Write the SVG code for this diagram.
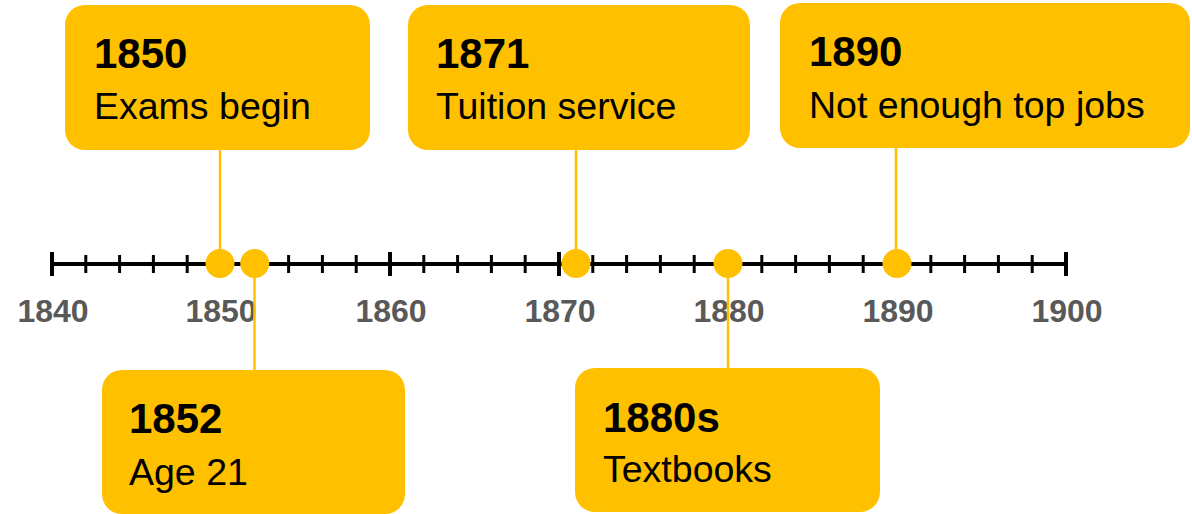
<svg xmlns="http://www.w3.org/2000/svg" width="1192" height="514" viewBox="0 0 1192 514">
<style>
.box{fill:#FFC000}
.yr{font-family:"Liberation Sans",Arial,sans-serif;font-weight:bold;font-size:42px;fill:#000}
.desc{font-family:"Liberation Sans",Arial,sans-serif;font-size:37.5px;fill:#000}
.ax{font-family:"Liberation Sans",Arial,sans-serif;font-weight:bold;font-size:32px;fill:#595959;text-anchor:middle}
.conn{stroke:#FFC000;stroke-width:2.5;fill:none}
.dot{fill:#FFC000}
.maj{stroke:#000;stroke-width:4}
.min{stroke:#000;stroke-width:3}
</style>
<g id="axis">
<line x1="52" y1="264" x2="1066" y2="264" stroke="#000" stroke-width="4"/>
<g class="maj">
<line x1="52" y1="252" x2="52" y2="276"/>
<line x1="221" y1="252" x2="221" y2="276"/>
<line x1="390" y1="252" x2="390" y2="276"/>
<line x1="559" y1="252" x2="559" y2="276"/>
<line x1="728" y1="252" x2="728" y2="276"/>
<line x1="897" y1="252" x2="897" y2="276"/>
<line x1="1066" y1="252" x2="1066" y2="276"/>
</g>
<g class="min">
<line x1="85.8" y1="255" x2="85.8" y2="273"/>
<line x1="119.6" y1="255" x2="119.6" y2="273"/>
<line x1="153.4" y1="255" x2="153.4" y2="273"/>
<line x1="187.2" y1="255" x2="187.2" y2="273"/>
<line x1="254.8" y1="255" x2="254.8" y2="273"/>
<line x1="288.6" y1="255" x2="288.6" y2="273"/>
<line x1="322.4" y1="255" x2="322.4" y2="273"/>
<line x1="356.2" y1="255" x2="356.2" y2="273"/>
<line x1="423.8" y1="255" x2="423.8" y2="273"/>
<line x1="457.6" y1="255" x2="457.6" y2="273"/>
<line x1="491.4" y1="255" x2="491.4" y2="273"/>
<line x1="525.2" y1="255" x2="525.2" y2="273"/>
<line x1="592.8" y1="255" x2="592.8" y2="273"/>
<line x1="626.6" y1="255" x2="626.6" y2="273"/>
<line x1="660.4" y1="255" x2="660.4" y2="273"/>
<line x1="694.2" y1="255" x2="694.2" y2="273"/>
<line x1="761.8" y1="255" x2="761.8" y2="273"/>
<line x1="795.6" y1="255" x2="795.6" y2="273"/>
<line x1="829.4" y1="255" x2="829.4" y2="273"/>
<line x1="863.2" y1="255" x2="863.2" y2="273"/>
<line x1="930.8" y1="255" x2="930.8" y2="273"/>
<line x1="964.6" y1="255" x2="964.6" y2="273"/>
<line x1="998.4" y1="255" x2="998.4" y2="273"/>
<line x1="1032.2" y1="255" x2="1032.2" y2="273"/>
</g>
<text class="ax" x="53" y="322">1840</text>
<text class="ax" x="221" y="322">1850</text>
<text class="ax" x="391" y="322">1860</text>
<text class="ax" x="560" y="322">1870</text>
<text class="ax" x="729" y="322">1880</text>
<text class="ax" x="898" y="322">1890</text>
<text class="ax" x="1067" y="322">1900</text>
</g>
<g id="connectors">
<line class="conn" x1="220" y1="150" x2="220" y2="263"/>
<line class="conn" x1="254.5" y1="263" x2="254.5" y2="371"/>
<line class="conn" x1="576" y1="150" x2="576" y2="263"/>
<line class="conn" x1="728" y1="263" x2="728" y2="369"/>
<line class="conn" x1="896" y1="148" x2="896" y2="263"/>
</g>
<g id="dots">
<circle class="dot" cx="220" cy="263.5" r="14.5"/>
<circle class="dot" cx="254.7" cy="263.5" r="14.5"/>
<circle class="dot" cx="576" cy="263.5" r="14.5"/>
<circle class="dot" cx="728" cy="263.5" r="14.5"/>
<circle class="dot" cx="897" cy="263.5" r="14.5"/>
</g>
<g id="node-1850">
<rect class="box" x="65" y="5" width="305" height="145" rx="20"/>
<text class="yr" x="94" y="68">1850</text>
<text class="desc" x="94" y="119">Exams begin</text>
</g>
<g id="node-1871">
<rect class="box" x="408" y="5" width="342" height="145" rx="20"/>
<text class="yr" x="436" y="68">1871</text>
<text class="desc" x="436" y="119">Tuition service</text>
</g>
<g id="node-1890">
<rect class="box" x="780" y="3" width="410" height="145" rx="20"/>
<text class="yr" x="809" y="66">1890</text>
<text class="desc" x="809" y="118">Not enough top jobs</text>
</g>
<g id="node-1852">
<rect class="box" x="102" y="370" width="303" height="144" rx="20"/>
<text class="yr" x="129" y="433">1852</text>
<text class="desc" x="129" y="485">Age 21</text>
</g>
<g id="node-1880s">
<rect class="box" x="575" y="368" width="305" height="144" rx="20"/>
<text class="yr" x="603" y="432">1880s</text>
<text class="desc" x="603" y="482">Textbooks</text>
</g>
</svg>
